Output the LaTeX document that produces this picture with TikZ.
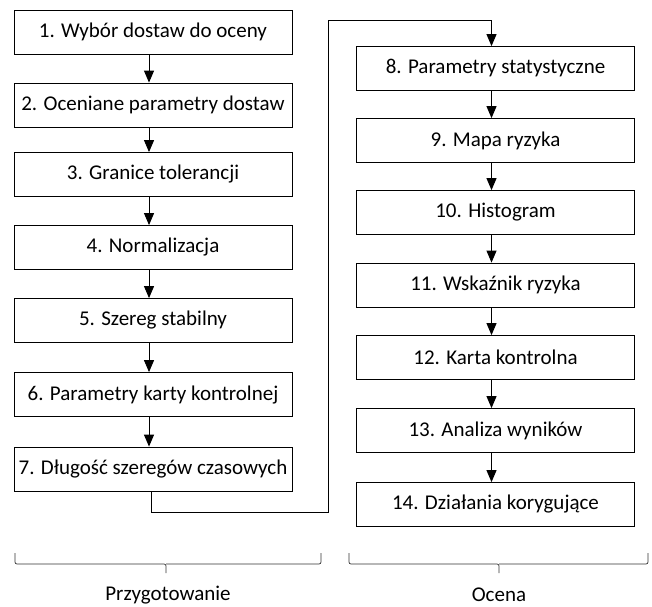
\documentclass[tikz,border=0pt]{standalone}
\usepackage{fontspec}
\setmainfont{Carlito}
\usetikzlibrary{arrows.meta}
\begin{document}
\begin{tikzpicture}[x=1pt,y=-1pt,
  stepbox/.style={draw=black,line width=0.8pt,minimum width=278pt,minimum height=44pt,inner sep=0pt,font=\fontsize{21}{24}\selectfont},
  lbl/.style={font=\fontsize{21}{24}\selectfont,inner sep=0pt},
  arr/.style={line width=1pt,-{Triangle[width=10pt,length=12pt]}},
  brc/.style={line width=0.7pt,draw=black!80,rounded corners=2pt}]
\useasboundingbox (0,0) rectangle (652,606);
% left column
\node[stepbox] (b1) at (153,32) {1. Wybór dostaw do oceny};
\node[stepbox] (b2) at (153,105) {2. Oceniane parametry dostaw};
\node[stepbox] (b3) at (153,174.5) {3. Granice tolerancji};
\node[stepbox] (b4) at (153,247.5) {4. Normalizacja};
\node[stepbox] (b5) at (153,320.5) {5. Szereg stabilny};
\node[stepbox] (b6) at (153,394.5) {6. Parametry karty kontrolnej};
\node[stepbox] (b7) at (153,469) {7. Długość szeregów czasowych};
% right column
\node[stepbox] (b8) at (495.5,68.5) {8. Parametry statystyczne};
\node[stepbox] (b9) at (495.5,140.5) {9. Mapa ryzyka};
\node[stepbox] (b10) at (495.5,212.5) {10. Histogram};
\node[stepbox] (b11) at (495.5,285) {11. Wskaźnik ryzyka};
\node[stepbox] (b12) at (495.5,357.5) {12. Karta kontrolna};
\node[stepbox] (b13) at (495.5,430.5) {13. Analiza wyników};
\node[stepbox] (b14) at (495.5,504.5) {14. Działania korygujące};
% arrows
\foreach \a/\b in {b1/b2,b2/b3,b3/b4,b4/b5,b5/b6,b6/b7,b8/b9,b9/b10,b10/b11,b11/b12,b12/b13,b13/b14}
  \draw[arr] ([xshift=-4pt]\a.south) -- ([xshift=-4pt]\b.north);
% connector 7 -> 8
\coordinate (c1) at (328,512);
\coordinate (c2) at (328,20);
\draw[arr] ([xshift=-2pt]b7.south) |- (c1) -- (c2) -| ([xshift=-4pt]b8.north);
% braces
\draw[brc] (15,553) -- (15,564) -- (166,564) -- (166,573);
\draw[brc] (166,564) -- (321,564) -- (321,553);
\draw[brc] (349,553) -- (349,564) -- (499,564) -- (499,573);
\draw[brc] (499,564) -- (648,564) -- (648,553);
\node[lbl] (p) at (168,595) {Przygotowanie};
\node[lbl] (o) at (499,595) {Ocena};
\end{tikzpicture}
\end{document}
